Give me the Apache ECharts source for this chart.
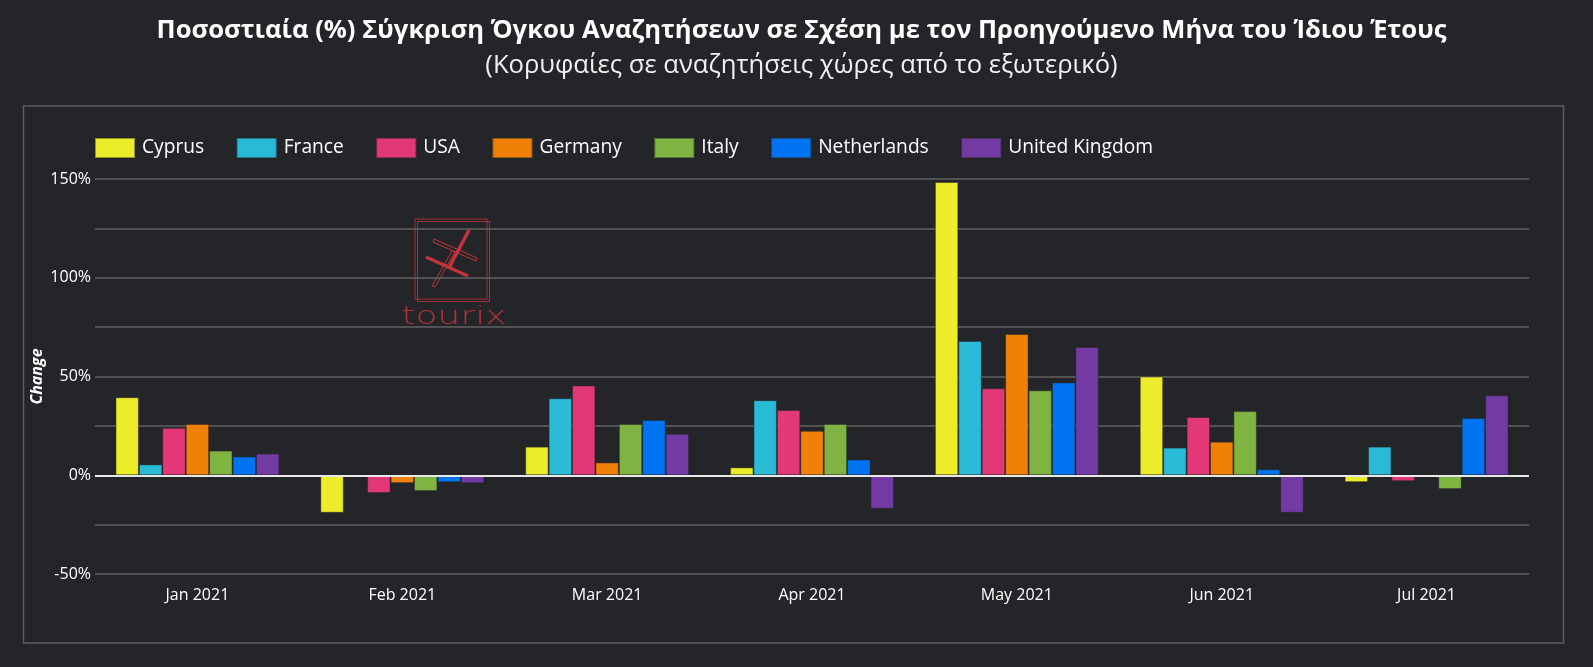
<!DOCTYPE html>
<html><head><meta charset="utf-8">
<style>html,body{margin:0;padding:0;background:#242528}#c{width:1593px;height:667px}</style>
<script src="https://cdn.jsdelivr.net/npm/echarts@6/dist/echarts.min.js"></script>
</head><body><div id="c"></div>
<script>
const categories=['Jan 2021','Feb 2021','Mar 2021','Apr 2021','May 2021','Jun 2021','Jul 2021'];
const Cyprus=[39.5,-19,14.5,4,148.5,50,-3.5];
const France=[5.5,0,39,38,68,14,14.5];
const USA=[24,-9,45.5,33,44,29.5,-3];
const Germany=[26,-4,6.5,22.5,71.5,17,0.3];
const Italy=[12.5,-8,26,26,43,32.5,-7];
const Netherlands=[9.5,-3.5,28,8,47,3,29];
const UnitedKingdom=[11,-4,21,-17,65,-19,40.5];
const titleText='Ποσοστιαία (%) Σύγκριση Όγκου Αναζητήσεων σε Σχέση με τον Προηγούμενο Μήνα του Ίδιου Έτους';
const subtitleText='(Κορυφαίες σε αναζητήσεις χώρες από το εξωτερικό)';
const seriesDefs=[['Cyprus',Cyprus,'#ecec2a'],['France',France,'#29bbd6'],['USA',USA,'#e33878'],['Germany',Germany,'#f08006'],['Italy',Italy,'#7fb342'],['Netherlands',Netherlands,'#0073f0'],['United Kingdom',UnitedKingdom,'#733aa3']];
const font='"Open Sans","Noto Sans",sans-serif';
const logo='#c2333a';
const chart=echarts.init(document.getElementById('c'),null,{renderer:'canvas'});
chart.setOption({
 backgroundColor:'#242528',animation:false,
 title:{text:titleText,subtext:subtitleText,left:796.5,textAlign:'center',top:10,itemGap:3,
  textStyle:{color:'#fff',fontFamily:font,fontWeight:'bold',fontSize:25.6,lineHeight:32},
  subtextStyle:{color:'#f0f0f0',fontFamily:font,fontSize:25.6,lineHeight:32}},
 legend:{left:89,top:132,itemWidth:40,itemHeight:20,itemGap:31.5,icon:'rect',
  textStyle:{color:'#fff',fontFamily:font,fontSize:19.2,padding:[4,0,0,2]},
  data:seriesDefs.map(s=>s[0])},
 grid:{left:95,right:64,top:179,bottom:93,containLabel:false},
 xAxis:{type:'category',data:categories,
  axisLine:{show:false},axisTick:{show:false},splitLine:{show:false},
  axisLabel:{color:'#fff',fontFamily:font,fontSize:16,margin:13}},
 yAxis:{type:'value',min:-50,max:150,interval:25,
  name:'Change',nameLocation:'middle',nameGap:50,nameMoveOverlap:false,
  nameTextStyle:{color:'#fff',fontFamily:font,fontSize:16,fontStyle:'italic',fontWeight:'bold'},
  axisLine:{show:false},axisTick:{show:false},
  splitLine:{lineStyle:{color:'#626262',width:1.5}},
  axisLabel:{color:'#fff',fontFamily:font,fontSize:16,margin:4,padding:[4,0,0,0],
   formatter:v=>v%50===0?v+'%':''}},
 series:seriesDefs.map(([name,data,color])=>({name,data,type:'bar',barGap:'0%',barCategoryGap:'20%',
  itemStyle:{color,borderColor:'rgba(36,37,40,0.45)',borderWidth:1},
  markLine:name==='Cyprus'?{silent:true,symbol:'none',label:{show:false},
   lineStyle:{color:'#e8e8e8',width:2,type:'solid'},data:[{yAxis:0}],z:10}:undefined})),
 graphic:{elements:[
  {type:'rect',silent:true,z:-1,shape:{x:23.5,y:106,width:1540,height:537},style:{fill:'none',stroke:'#5c5c5c',lineWidth:1.5}},
  {type:'group',silent:true,z:-1,children:[
   {type:'rect',z:-1,shape:{x:415,y:219,width:72,height:80},style:{fill:'none',stroke:logo,lineWidth:1,opacity:.8}},
   {type:'rect',z:-1,shape:{x:417.5,y:221.5,width:72,height:80},style:{fill:'none',stroke:logo,lineWidth:1,opacity:.8}},
   {type:'line',z:-1,shape:{x1:469,y1:230,x2:449,y2:268},style:{stroke:logo,lineWidth:3.5}},
   {type:'line',z:-1,shape:{x1:426,y1:257,x2:468,y2:276},style:{stroke:logo,lineWidth:3.5}},
   {type:'polygon',z:-1,shape:{points:[[434,239],[477,258],[476,261],[433,242]]},style:{fill:'none',stroke:logo,lineWidth:1}},
   {type:'polygon',z:-1,shape:{points:[[452,251],[455,252],[435,287],[432,286]]},style:{fill:'none',stroke:logo,lineWidth:1}},
   {type:'text',z:-1,x:454,y:318,scaleX:1.5,style:{x:0,y:0,text:'tourix',fill:logo,font:'200 24px "DejaVu Sans"',align:'center',verticalAlign:'middle',opacity:.9}}
  ]}
 ]}
});
</script></body></html>
